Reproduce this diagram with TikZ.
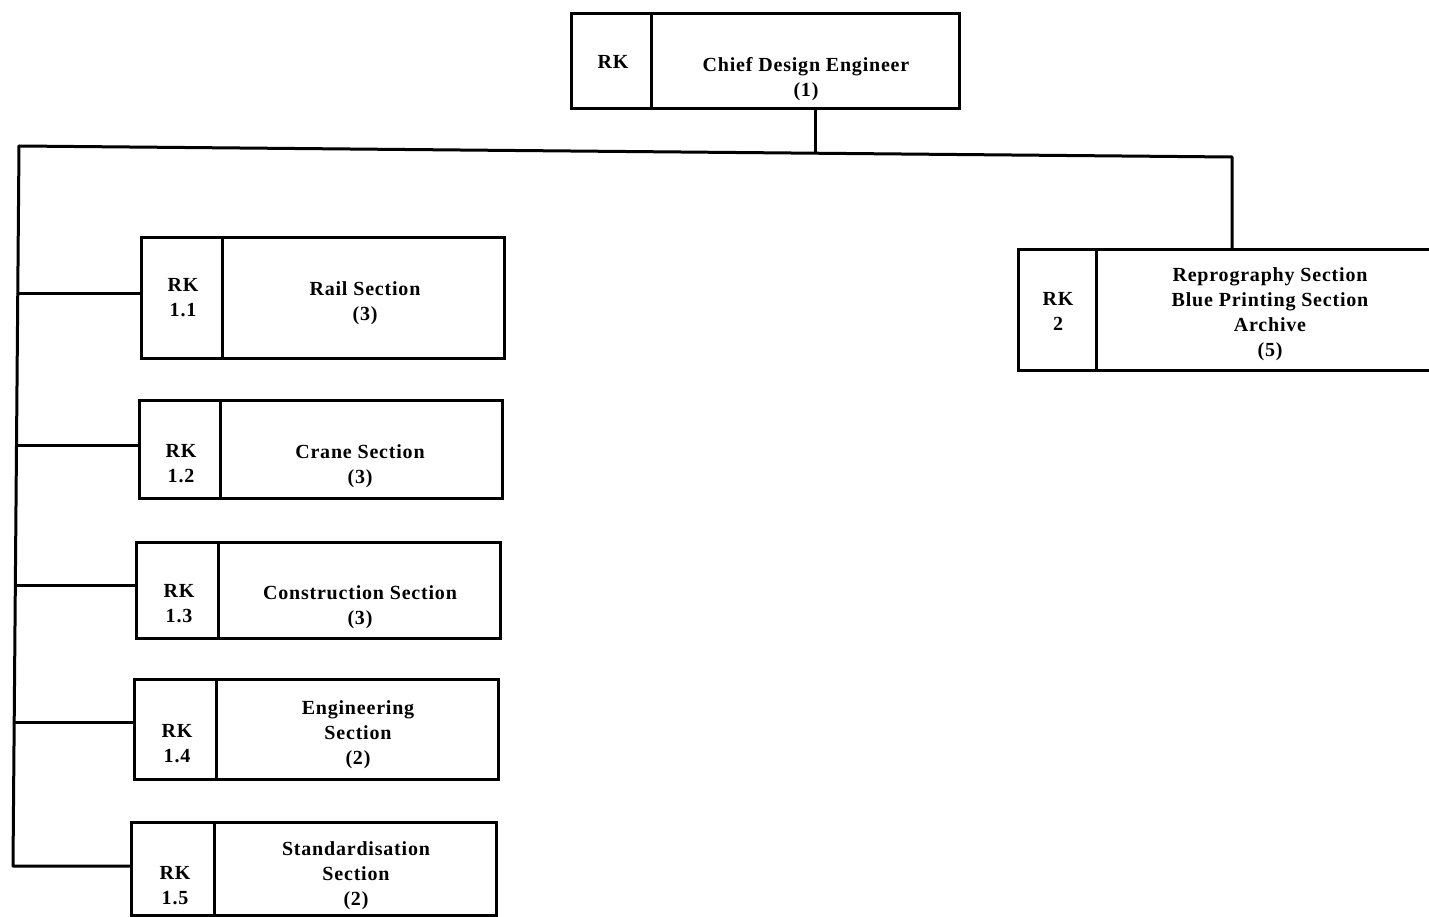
\documentclass[tikz,border=0pt]{standalone}
\usepackage{fontspec}
\setmainfont{Liberation Serif}
\newfontfamily\boxfont[LetterSpace=4]{Liberation Serif}
\begin{document}
\begin{tikzpicture}[x=1pt,y=-1pt,
  cell/.style={draw, line width=3pt, rectangle, inner sep=0pt, anchor=north west},
  lbl/.style={font=\boxfont\fontsize{20}{25}\selectfont\bfseries, align=center, inner sep=0pt},
  wire/.style={line width=3pt, line cap=round, line join=round}]
\useasboundingbox (0,0) rectangle (1429,917);

% Chief design engineer
\node[cell, minimum width=80, minimum height=95] (ck) at (570,12) {};
\node[cell, minimum width=308, minimum height=95] (ct) at (650,12) {};
\node[lbl] (ckl) at (613,62) {RK};
\node[lbl] (ctl) at (806,79) {Chief Design Engineer\\(1)};

% RK 1.1
\node[cell, minimum width=81, minimum height=121] (a1k) at (140,236) {};
\node[cell, minimum width=282, minimum height=121] (a1t) at (221,236) {};
\node[lbl] (a1kl) at (183,298) {RK\\1.1};
\node[lbl] (a1tl) at (365,303) {Rail Section\\(3)};

% RK 1.2
\node[cell, minimum width=81, minimum height=98] (a2k) at (138,399) {};
\node[cell, minimum width=282, minimum height=98] (a2t) at (219,399) {};
\node[lbl] (a2kl) at (181,464) {RK\\1.2};
\node[lbl] (a2tl) at (360,466) {Crane Section\\(3)};

% RK 1.3
\node[cell, minimum width=82, minimum height=96] (a3k) at (135,541) {};
\node[cell, minimum width=282, minimum height=96] (a3t) at (217,541) {};
\node[lbl] (a3kl) at (179,604) {RK\\1.3};
\node[lbl] (a3tl) at (360,607) {Construction Section\\(3)};

% RK 1.4
\node[cell, minimum width=82, minimum height=100] (a4k) at (133,678) {};
\node[cell, minimum width=282, minimum height=100] (a4t) at (215,678) {};
\node[lbl] (a4kl) at (177,744) {RK\\1.4};
\node[lbl] (a4tl) at (358,735) {Engineering\\Section\\(2)};

% RK 1.5
\node[cell, minimum width=83, minimum height=93] (a5k) at (130,821) {};
\node[cell, minimum width=282, minimum height=93] (a5t) at (213,821) {};
\node[lbl] (a5kl) at (175,886) {RK\\1.5};
\node[lbl] (a5tl) at (356,876) {Standardisation\\Section\\(2)};

% RK 2
\node[cell, minimum width=78, minimum height=121] (bk) at (1017,248) {};
\node[cell, minimum width=345, minimum height=121] (bt) at (1095,248) {};
\node[lbl] (bkl) at (1058,311) {RK\\2};
\node[lbl] (btl) at (1270,314) {Reprography Section\\Blue Printing Section\\Archive\\(5)};

% connectors
\coordinate (j) at (815,152);
\coordinate (tl) at (19,146);
\coordinate (bl) at (13,866);
\draw[wire] (ct.south -| j) -- (j);
\draw[wire] (tl) -- (1232,157) -- (bt.north -| 1232,0);
\draw[wire] (tl) -- (bl) -- (a5k.west |- bl);
\draw[wire] (18,293) -- (a1k.west |- 0,293);
\draw[wire] (17,445) -- (a2k.west |- 0,445);
\draw[wire] (16,585) -- (a3k.west |- 0,585);
\draw[wire] (15,722) -- (a4k.west |- 0,722);
\end{tikzpicture}
\end{document}
